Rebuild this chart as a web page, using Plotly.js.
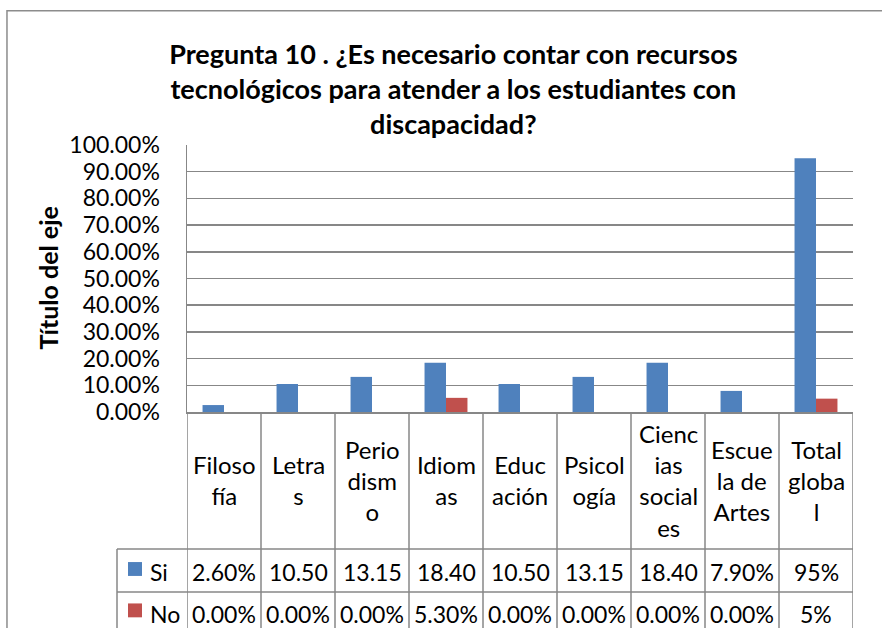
<!DOCTYPE html>
<html>
<head>
<meta charset="utf-8">
<script src="https://cdn.plot.ly/plotly-3.0.1.min.js"></script>
<style>html,body{margin:0;padding:0;background:#fff;}#chart{width:882px;height:628px;}</style>
</head>
<body>
<div id="chart"></div>
<script>
// ---- data ----
const categories = ["Filosofía","Letras","Periodismo","Idiomas","Educación","Psicología","Ciencias sociales","Escuela de Artes","Total global"];
const headerLabels = ["Filoso<br>fía","Letra<br>s","Perio<br>dism<br>o","Idiom<br>as","Educ<br>ación","Psicol<br>ogía","Cienc<br>ias<br>social<br>es","Escue<br>la de<br>Artes","Total<br>globa<br>l"];
const siValues = [0.026, 0.105, 0.1315, 0.184, 0.105, 0.1315, 0.184, 0.079, 0.95];
const noValues = [0, 0, 0, 0.053, 0, 0, 0, 0, 0.05];
const siLabels = ["2.60%","10.50","13.15","18.40","10.50","13.15","18.40","7.90%","95%"];
const noLabels = ["0.00%","0.00%","0.00%","5.30%","0.00%","0.00%","0.00%","0.00%","5%"];
const seriesNames = ["Si","No"];
const seriesColors = ["#4F81BD","#C0504D"];

const FONT = "Lato, 'Open Sans', sans-serif";
const GRID = "#878787";

const traces = [
  {type:"bar", name:seriesNames[0], x:categories, y:siValues, marker:{color:seriesColors[0]}, hoverinfo:"x+y"},
  {type:"bar", name:seriesNames[1], x:categories, y:noValues, marker:{color:seriesColors[1]}, hoverinfo:"x+y"}
];

// table geometry (paper units relative to plot area)
const yHeader = -0.255, ySi = -0.600, yNo = -0.755;
const yRow1 = -0.513, yRow2 = -0.674, yBottom = -0.95;
const xLabelCol = -0.1051;

const shapes = [];
// outer chart border
shapes.push({type:"rect", xref:"paper", yref:"paper", x0:-0.2703, x1:1.25, y0:yBottom, y1:1.503, line:{color:"#8c8c8c", width:1.5}, layer:"below"});
// vertical table lines at category boundaries
for (let i = 0; i <= categories.length; i++) {
  shapes.push({type:"line", xref:"x", yref:"paper", x0:i-0.5, x1:i-0.5, y0:0, y1:yBottom, line:{color:GRID, width:1.5}});
}
// label column left border
shapes.push({type:"line", xref:"paper", yref:"paper", x0:xLabelCol, x1:xLabelCol, y0:yRow1, y1:yBottom, line:{color:GRID, width:1.5}});
// horizontal row lines
[yRow1, yRow2].forEach(yy => shapes.push({type:"line", xref:"paper", yref:"paper", x0:xLabelCol, x1:1, y0:yy, y1:yy, line:{color:GRID, width:1.5}}));
// legend keys
[ySi, yNo].forEach((yy, k) => shapes.push({type:"rect", xref:"paper", yref:"paper", x0:-0.0886, x1:-0.0676, y0:yy+0.038, y1:yy-0.014, fillcolor:seriesColors[k], line:{width:0}}));

const annotations = [];
categories.forEach((c, i) => {
  annotations.push({xref:"x", yref:"paper", x:c, y:yHeader, text:headerLabels[i], showarrow:false, yanchor:"middle", xanchor:"center", align:"center", font:{family:FONT, size:24, color:"#000"}});
  annotations.push({xref:"x", yref:"paper", x:c, y:ySi, text:siLabels[i], showarrow:false, yanchor:"middle", xanchor:"center", font:{family:FONT, size:23, color:"#000"}});
  annotations.push({xref:"x", yref:"paper", x:c, y:yNo, text:noLabels[i], showarrow:false, yanchor:"middle", xanchor:"center", font:{family:FONT, size:23, color:"#000"}});
});
[ySi, yNo].forEach((yy, k) => annotations.push({xref:"paper", yref:"paper", x:-0.0586, y:yy, text:seriesNames[k], showarrow:false, xanchor:"left", yanchor:"middle", font:{family:FONT, size:23, color:"#000"}}));
// y axis title
annotations.push({xref:"paper", yref:"paper", x:-0.2102, y:0.5, text:"<b>Título del eje</b>", textangle:-90, showarrow:false, xanchor:"center", yanchor:"middle", font:{family:FONT, size:25, color:"#000"}});

const layout = {
  width:882, height:628,
  margin:{l:187, r:29, t:145, b:216},
  paper_bgcolor:"#fff", plot_bgcolor:"#fff",
  showlegend:false,
  barmode:"group", bargap:0.42, bargroupgap:0,
  title:{text:"<b>Pregunta 10 . ¿Es necesario contar con recursos<br>tecnológicos para atender a los estudiantes con<br>discapacidad?</b>",
         x:0.514, xanchor:"center", y:1-64/628, yanchor:"top", yref:"container",
         font:{family:FONT, size:27, color:"#000"}},
  xaxis:{type:"category", range:[-0.5, categories.length-0.5], showticklabels:false, showgrid:false, zeroline:false,
         showline:true, linecolor:GRID, linewidth:1.5, ticks:"", fixedrange:true},
  yaxis:{range:[0,1], dtick:0.1, tickformat:".2%", showgrid:true, gridcolor:GRID, gridwidth:1.5, zeroline:false,
         showline:true, linecolor:GRID, linewidth:1.5, ticks:"", ticklabelstandoff:21,
         tickfont:{family:FONT, size:23, color:"#000"}, fixedrange:true},
  shapes:shapes, annotations:annotations
};

Plotly.newPlot("chart", traces, layout, {displayModeBar:false, staticPlot:true});
</script>
</body>
</html>
